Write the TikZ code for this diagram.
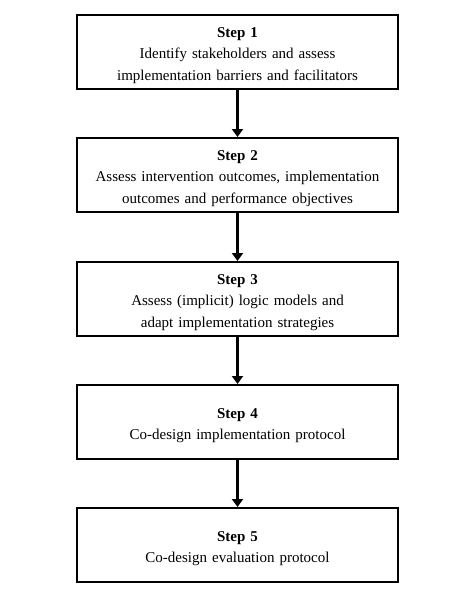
\documentclass[tikz,border=0pt]{standalone}
\usepackage{fontspec}
\setmainfont{Liberation Serif}
\usetikzlibrary{arrows.meta}
\begin{document}
\begin{tikzpicture}[x=1pt,y=1pt,
  stepbox/.style={draw=black, line width=2pt, minimum width=321pt, minimum height=74pt, inner sep=0pt},
  steptext/.style={text width=315pt, align=center, inner sep=0pt, yshift=-3.5pt, font=\fontsize{15}{21.5}\selectfont},
  flow/.style={line width=2.8pt, -{Triangle[width=11pt,length=8pt]}}]
\useasboundingbox (0,0) rectangle (474,-599);
\node[stepbox] (s1) at (237.5,-52) {};
\node[stepbox] (s2) at (237.5,-175) {};
\node[stepbox] (s3) at (237.5,-299) {};
\node[stepbox] (s4) at (237.5,-422) {};
\node[stepbox] (s5) at (237.5,-545) {};
\node[steptext] (t1) at (s1.center) {\textbf{Step 1}\\Identify stakeholders and assess\\implementation barriers and facilitators};
\node[steptext] (t2) at (s2.center) {\textbf{Step 2}\\Assess intervention outcomes, implementation\\outcomes and performance objectives};
\node[steptext] (t3) at (s3.center) {\textbf{Step 3}\\Assess (implicit) logic models and\\adapt implementation strategies};
\node[steptext] (t4) at (s4.center) {\textbf{Step 4}\\Co-design implementation protocol};
\node[steptext] (t5) at (s5.center) {\textbf{Step 5}\\Co-design evaluation protocol};
\draw[flow] (s1) -- (s2);
\draw[flow] (s2) -- (s3);
\draw[flow] (s3) -- (s4);
\draw[flow] (s4) -- (s5);
\end{tikzpicture}
\end{document}
